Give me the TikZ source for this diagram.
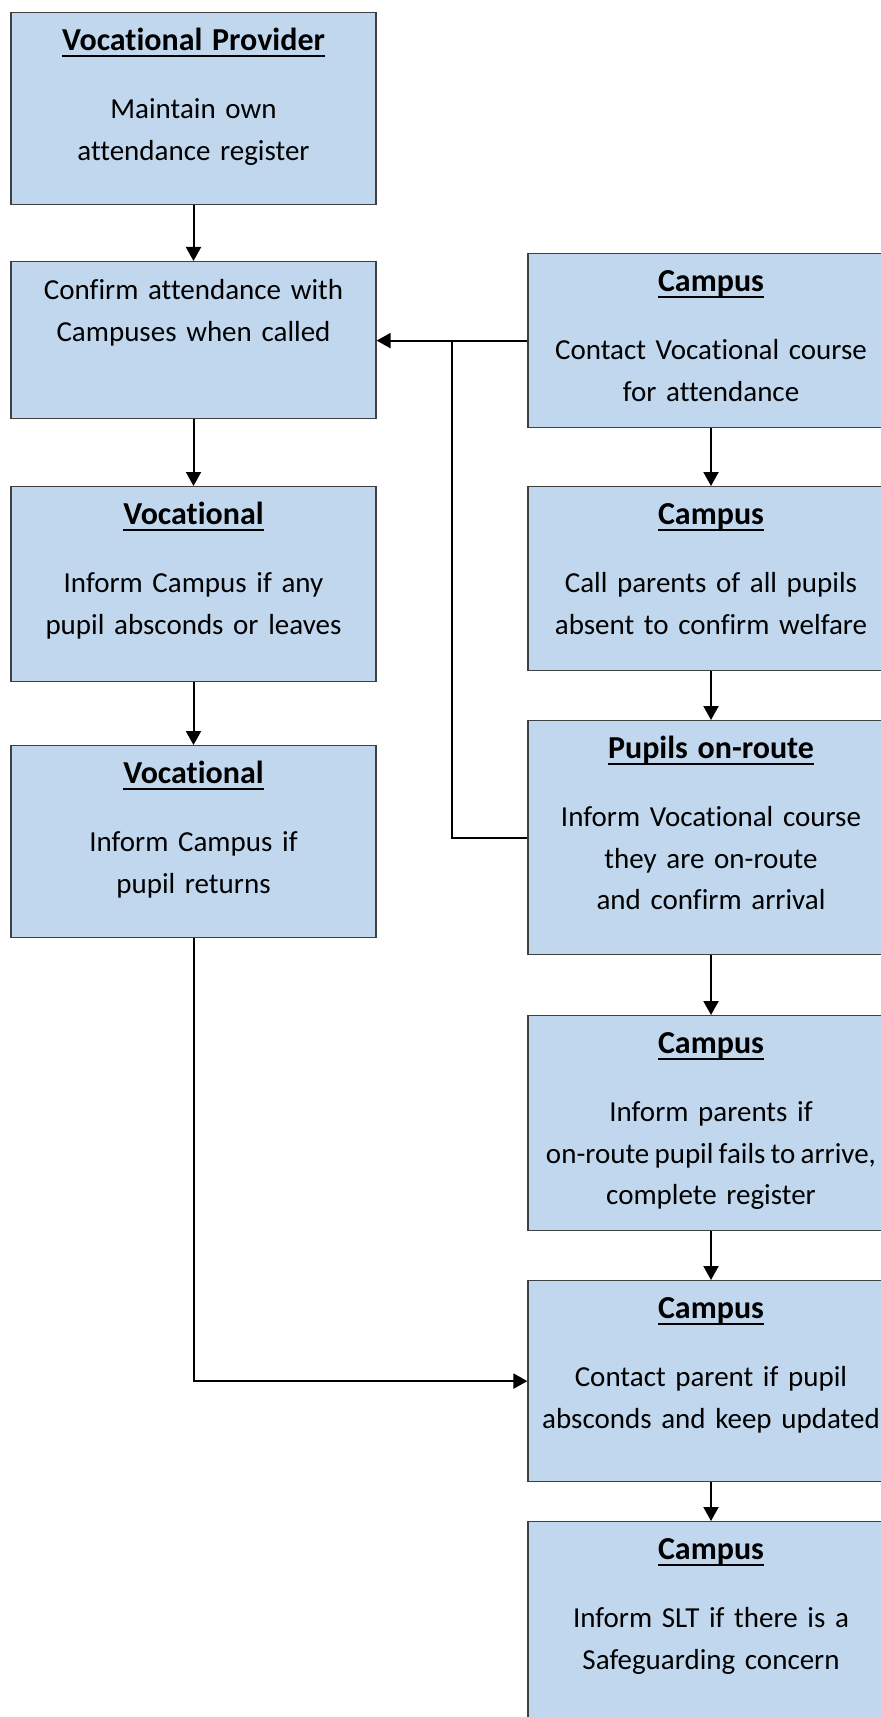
\documentclass[tikz,border=0pt]{standalone}
\usepackage{fontspec}
\setmainfont{Carlito}[Ligatures=NoCommon]
\usetikzlibrary{arrows.meta}

\definecolor{boxfill}{HTML}{C0D7EE}
\definecolor{boxline}{HTML}{404040}
\newcommand{\boxhead}[1]{\setbox0\hbox{\fontsize{16pt}{20.75pt}\selectfont\textbf{#1}}\rlap{\rule[-3pt]{\wd0}{1pt}}\box0}

\tikzset{
	stepbox/.style={draw=boxline, line width=0.6pt, fill=boxfill, anchor=north, align=center,
		inner xsep=0pt, inner ysep=9pt, text height=10pt, text depth=#1,
		font=\fontsize{14.5pt}{20.75pt}\selectfont},
	leftbox/.style={stepbox=#1, text width=182.5pt},
	rightbox/.style={stepbox=#1, text width=183pt},
	flow/.style={line width=1pt, -{Triangle[width=7.5pt,length=7pt]}},
	link/.style={line width=1pt}
}

\begin{document}
\begin{tikzpicture}[x=0.5pt,y=-0.5pt]
		\useasboundingbox (0,0) rectangle (881,1717);
		\clip (0,0) rectangle (881,1717);
		%
		\node[leftbox=68pt] (provider) at (193.5,12) {\boxhead{Vocational Provider}\\[13.25pt]Maintain own\\attendance register};
		\node[leftbox=50.5pt] (confirm) at (193.5,261) {Confirm attendance with\\Campuses when called};
		\node[leftbox=69.5pt] (leaves) at (193.5,486) {\boxhead{Vocational}\\[13.25pt]Inform Campus if any\\pupil absconds or leaves};
		\node[leftbox=68pt] (returns) at (193.5,745) {\boxhead{Vocational}\\[13.25pt]Inform Campus if\\pupil returns};
		%
		\node[rightbox=59pt] (contact) at (711,253) {\boxhead{Campus}\\[13.25pt]Contact Vocational course\\for attendance};
		\node[rightbox=64pt] (parents) at (711,486) {\boxhead{Campus}\\[13.25pt]Call parents of all pupils\\absent to confirm welfare};
		\node[rightbox=89pt] (onroute) at (711,720) {\boxhead{Pupils on-route}\\[13.25pt]Inform Vocational course\\they are on-route\\and confirm arrival};
		\node[rightbox=79.5pt] (fails) at (711,1015) {\boxhead{Campus}\\[13.25pt]Inform parents if\\{\spaceskip=2.6pt on-route pupil fails to arrive,}\\complete register};
		\node[rightbox=72.5pt] (absconds) at (711,1280) {\boxhead{Campus}\\[13.25pt]Contact parent if pupil\\absconds and keep updated};
		\node[rightbox=92pt] (slt) at (711,1521) {\boxhead{Campus}\\[13.25pt]Inform SLT if there is a\\Safeguarding concern};
		%
		\draw[flow] (provider) -- (confirm);
		\draw[flow] (confirm) -- (leaves);
		\draw[flow] (leaves) -- (returns);
		\draw[flow] (returns.south) |- (absconds.west);
		%
		\draw[flow] (contact.west) -- (contact.west -| confirm.east);
		\coordinate (join) at (452,0);
		\draw[link] (onroute.west) -| (join |- contact.west);
		%
		\draw[flow] (contact) -- (parents);
		\draw[flow] (parents) -- (onroute);
		\draw[flow] (onroute) -- (fails);
		\draw[flow] (fails) -- (absconds);
		\draw[flow] (absconds) -- (slt);
\end{tikzpicture}
\end{document}
